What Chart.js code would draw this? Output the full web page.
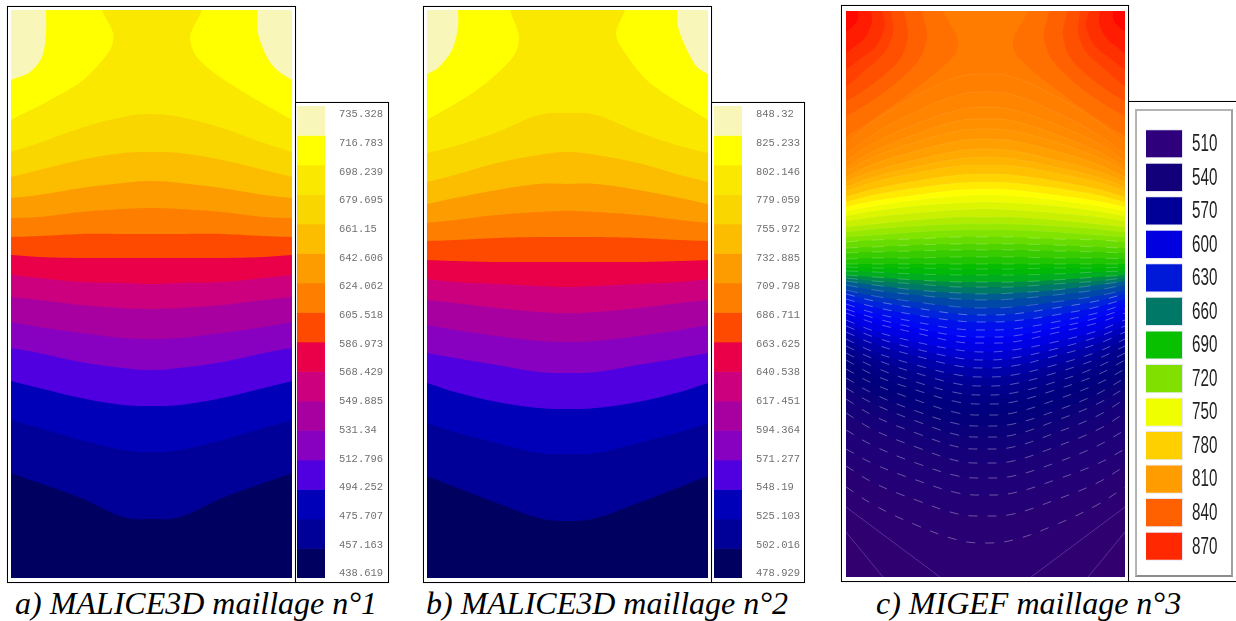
<!DOCTYPE html>
<html>
<head>
<meta charset="utf-8">
<title>Champs de temperature</title>
<script src="https://cdn.jsdelivr.net/npm/chart.js@4/dist/chart.umd.min.js"></script>
<style>
    html, body { margin: 0; padding: 0; background: #fff; }
    body { position: relative; width: 1236px; height: 621px; overflow: hidden; }
    canvas, .frame, .caption, .box { position: absolute; }
    .frame { box-sizing: border-box; border: 1px solid #000; box-shadow: 0 0 0.6px rgba(0, 0, 0, 0.8); }
    .box { box-sizing: border-box; border: 2px solid #b4b4b4; border-bottom-color: #8c8c8c; border-right-color: #a0a0a0; }
    .caption { top: 585px; font: italic 32px "Liberation Serif", serif; color: #000; white-space: nowrap; }
</style>
</head>
<body>
<div class="frame" style="left:7px;top:6px;width:289px;height:577px"></div>
<div class="frame" style="left:295px;top:102px;width:94px;height:481px"></div>
<div class="frame" style="left:423px;top:6px;width:289px;height:577px"></div>
<div class="frame" style="left:711px;top:102px;width:94px;height:481px"></div>
<div class="frame" style="left:841px;top:5px;width:288px;height:577px"></div>
<div class="frame" style="left:1128px;top:101px;width:120px;height:481px"></div>
<div class="box" style="left:1135px;top:109px;width:98px;height:468px"></div>

<canvas id="fieldA" width="281" height="568" style="left:11px;top:10px"></canvas>
<canvas id="scaleA" width="90" height="472" style="left:297px;top:106px"></canvas>
<canvas id="fieldB" width="281" height="568" style="left:427px;top:10px"></canvas>
<canvas id="scaleB" width="90" height="472" style="left:714px;top:106px"></canvas>
<canvas id="fieldC" width="279" height="566" style="left:846px;top:11px"></canvas>
<canvas id="scaleC" width="80" height="436" style="left:1146px;top:127px"></canvas>

<div class="caption" style="left:15px">a) MALICE3D maillage n°1</div>
<div class="caption" style="left:426px">b) MALICE3D maillage n°2</div>
<div class="caption" style="left:876px">c) MIGEF maillage n°3</div>

<script>
// tick labels of the colour scales
const levelsA = [735.328, 716.783, 698.239, 679.695, 661.15, 642.606, 624.062, 605.518, 586.973, 568.429, 549.885, 531.34, 512.796, 494.252, 475.707, 457.163, 438.619]
const levelsB = [848.32, 825.233, 802.146, 779.059, 755.972, 732.885, 709.798, 686.711, 663.625, 640.538, 617.451, 594.364, 571.277, 548.19, 525.103, 502.016, 478.929]
const levelsC = ['510', '540', '570', '600', '630', '660', '690', '720', '750', '780', '810', '840', '870']

const scaleColorsAB = ['#f8f6b8', '#ffff00', '#fbe800', '#f9d600', '#fcbc00', '#fd9c00', '#fe7e00', '#fd4a00', '#e90048', '#cc007f', '#a800a0', '#8800c0', '#5000e0', '#0000b8', '#000098', '#000060']
const scaleColorsC = ['#2e007c', '#12007a', '#000098', '#0000e0', '#0018d8', '#007868', '#08c000', '#80e000', '#f0ff00', '#ffd000', '#ff9c00', '#ff6000', '#ff2800']

// x stops of the half profiles (left edge to centre)
const stopsAB = [0, 28, 70, 112, 140, 169, 211, 253, 281]
const stopsC = [0, 28, 70, 112, 139, 167, 209, 251, 279]

// iso lines: depth at each half stop, top to bottom
const bandsA = [
    [142, 133, 118, 107, 104],
    [167, 160, 150, 143, 142],
    [188, 185, 178, 173, 171],
    [208, 207, 202, 199, 198],
    [227, 226, 224, 224, 224],
    [245, 247, 248, 248, 248],
    [265, 268, 272, 273, 274],
    [287, 290, 295, 298, 299],
    [312, 317, 323, 328, 329],
    [338, 343, 352, 358, 360],
    [371, 378, 388, 395, 396],
    [410, 418, 430, 440, 442],
    [463, 473, 488, 507, 509]
]
const bandsB = [
    [143, 136, 122, 105, 103],
    [172, 165, 153, 145, 142],
    [194, 188, 180, 174, 174],
    [213, 210, 205, 202, 201],
    [231, 230, 228, 227, 227],
    [250, 251, 252, 252, 252],
    [269, 272, 274, 276, 277],
    [290, 293, 298, 302, 303],
    [315, 320, 326, 331, 332],
    [343, 348, 355, 362, 363],
    [373, 382, 392, 398, 399],
    [413, 422, 433, 443, 444],
    [466, 477, 493, 508, 511]
]
const bandsC = [
    [133, 110, 85, 66, 63], [143, 123, 101, 84, 81], [150, 132, 113, 99, 96], [156, 140, 123, 110, 108],
    [160, 146, 131, 120, 118], [166, 153, 140, 130, 128], [171, 160, 149, 140, 138], [176, 166, 156, 148, 146],
    [180, 171, 162, 155, 154], [186, 178, 170, 164, 163], [191, 184, 177, 172, 171], [196, 190, 184, 179, 178],
    [200, 195, 189, 185, 184], [205, 200, 195, 192, 191], [210, 206, 202, 199, 198], [216, 213, 209, 206, 206],
    [221, 218, 215, 213, 213], [226, 224, 221, 219, 219], [231, 229, 228, 226, 226], [237, 236, 234, 233, 233],
    [242, 241, 240, 239, 239], [248, 247, 247, 246, 246], [253, 253, 253, 253, 253], [256, 257, 257, 258, 258],
    [260, 261, 263, 264, 264], [264, 266, 269, 271, 271], [267, 270, 273, 276, 276], [270, 274, 279, 282, 283],
    [274, 279, 284, 288, 289], [279, 285, 291, 296, 297], [283, 290, 297, 303, 304], [288, 296, 304, 310, 311],
    [293, 302, 311, 318, 319], [298, 307, 317, 325, 326], [302, 312, 322, 331, 332], [309, 320, 331, 339, 341],
    [315, 326, 338, 347, 349], [321, 333, 345, 355, 357], [328, 341, 354, 364, 366], [335, 348, 362, 373, 375],
    [342, 356, 371, 382, 384], [349, 364, 379, 391, 393], [358, 373, 389, 402, 404], [367, 383, 400, 413, 415],
    [377, 393, 410, 424, 426], [388, 405, 422, 436, 438], [402, 419, 436, 450, 452], [419, 435, 452, 465, 467],
    [438, 453, 469, 482, 484], [455, 472, 489, 503, 505], [476, 494, 514, 529, 532]
]
const bandColorsAB = ['#f9d600', '#fcbc00', '#fd9c00', '#fe7e00', '#fd4a00', '#e90048', '#cc007f', '#a800a0', '#8800c0', '#5000e0', '#0000b8', '#000098', '#000060']
const bandColorsC = [
    '#ff8000', '#ff8400', '#ff8a00', '#ff9000', '#ff9600', '#ffa000', '#ffaa00', '#ffb400', '#ffc000', '#ffd400',
    '#ffea00', '#ffff00', '#f0fb00', '#dcf600', '#c8f000', '#b0ec00', '#98e800', '#80e400', '#68dc00', '#50d400',
    '#38cc00', '#20c400', '#08bc00', '#00b808', '#00ac20', '#008c48', '#007868', '#005c90', '#0048a8', '#0034c4',
    '#0024dc', '#0010ec', '#0008f4', '#0000f0', '#0000e4', '#0000d0', '#0000bc', '#0000a8', '#000098', '#00008c',
    '#000084', '#00007e', '#04007c', '#0a007a', '#10007a', '#16007a', '#1c0078', '#200078', '#240076', '#280074', '#2c0072'
]

// closed regions in the upper corners, as [x, depth]
const cornersA = [
    { color: '#ffff00', points: [[-12, -12], [91, -12], [91, 0], [102, 23], [99, 40], [72, 70], [39, 90], [0, 110], [-12, 118]] },
    { color: '#ffff00', points: [[293, -12], [191, -12], [191, 0], [179, 27], [186, 47], [209, 67], [246, 90], [281, 110], [293, 118]] },
    { color: '#f8f6b8', points: [[-12, -12], [35, -12], [35, 0], [35, 23], [31, 47], [19, 62], [0, 70], [-12, 76]] },
    { color: '#f8f6b8', points: [[293, -12], [246, -12], [246, 0], [247, 23], [256, 47], [266, 60], [281, 70], [293, 76]] }
]
const cornersB = [
    { color: '#ffff00', points: [[-12, -12], [83, -12], [83, 0], [92, 27], [86, 47], [50, 80], [0, 110], [-12, 118]] },
    { color: '#ffff00', points: [[293, -12], [198, -12], [198, 0], [189, 23], [196, 40], [223, 73], [281, 110], [293, 118]] },
    { color: '#f8f6b8', points: [[-12, -12], [31, -12], [31, 0], [31, 17], [25, 40], [11, 58], [0, 64], [-12, 70]] },
    { color: '#f8f6b8', points: [[293, -12], [250, -12], [250, 0], [251, 17], [260, 40], [270, 57], [281, 64], [293, 70]] }
]
const arcsC = [
    { color: '#ff7000', points: [[97, 0], [112, 29], [107, 46], [60, 85], [0, 125]] },
    { color: '#ff6000', points: [[76, 0], [81, 26], [72, 50], [40, 80], [0, 105]] },
    { color: '#ff5000', points: [[58, 0], [62, 24], [54, 48], [28, 72], [0, 90]] },
    { color: '#ff4000', points: [[45, 0], [47, 22], [38, 42], [18, 60], [0, 75]] },
    { color: '#ff3000', points: [[36, 0], [39, 15], [30, 35], [14, 48], [0, 58]] },
    { color: '#ff1c00', points: [[25, 0], [26, 12], [18, 28], [8, 36], [0, 42]] },
    { color: '#ff0800', points: [[12, 0], [12, 8], [6, 16], [0, 20]] }
]
const bottomC = [
    { color: '#2e0070', points: [[0, 496], [94, 566]] },
    { color: '#330070', points: [[0, 521], [37, 566]] }
]

const mirror = half => [...half, ...half.slice(0, -1).reverse()]
const toPoints = pairs => pairs.map(([x, y]) => ({ x, y }))

const quiet = { legend: { display: false }, tooltip: { enabled: false } }

const region = (color, pairs, line = {}) => ({
    data: toPoints(pairs),
    showLine: true,
    fill: 'shape',
    backgroundColor: color,
    borderWidth: 0,
    pointRadius: 0,
    tension: 0.3,
    ...line
})

const band = (stops, depths, color, line = {}) => ({
    data: mirror(depths).map((y, i) => ({ x: stops[i], y })),
    showLine: true,
    fill: 'start',
    backgroundColor: color,
    borderWidth: 0,
    pointRadius: 0,
    tension: 0.4,
    ...line
})

const fieldChart = (id, width, height, layers) => {
    layers.forEach((layer, i) => { layer.order = layers.length - i })
    return new Chart(id, {
        type: 'scatter',
        data: { datasets: layers },
        options: {
            responsive: false,
            animation: false,
            layout: { padding: 0 },
            plugins: quiet,
            scales: {
                x: { type: 'linear', min: 0, max: width, display: false },
                y: { type: 'linear', min: 0, max: height, reverse: true, display: false }
            }
        }
    })
}

const levelChart = (id, levels) => {
    const top = levels[0]
    const bottom = levels[levels.length - 1]
    const perPixel = (top - bottom) / 459
    return new Chart(id, {
        type: 'bar',
        data: {
            labels: [''],
            datasets: scaleColorsAB.map((color, i) => ({
                data: [[levels[i + 1], levels[i]]],
                backgroundColor: color,
                yAxisID: 'bands',
                barPercentage: 1,
                categoryPercentage: 1,
                grouped: false,
                borderWidth: 0
            }))
        },
        options: {
            responsive: false,
            animation: false,
            layout: { padding: 0 },
            plugins: quiet,
            scales: {
                x: { display: false },
                bands: { type: 'linear', position: 'left', min: bottom, max: top, display: false },
                labels: {
                    type: 'linear',
                    position: 'right',
                    min: bottom - 4.5 * perPixel,
                    max: top + 8.5 * perPixel,
                    grid: { display: false, drawTicks: false },
                    border: { display: false },
                    afterBuildTicks: scale => { scale.ticks = levels.map(value => ({ value })) },
                    afterFit: scale => { scale.width = 62; scale.paddingTop = 0; scale.paddingBottom = 0 },
                    ticks: {
                        autoSkip: false,
                        padding: 14,
                        color: '#707070',
                        font: { family: '"Liberation Mono", monospace', size: 10.5 },
                        callback: value => String(value)
                    }
                }
            }
        }
    })
}

// the swatch labels are condensed, no narrow face is installed so squeeze the sans
const narrowLabels = {
    id: 'narrowLabels',
    afterDraw: chart => {
        const { ctx, chartArea } = chart
        const scale = chart.scales.y
        ctx.save()
        ctx.font = '23px "Liberation Sans", sans-serif'
        ctx.fillStyle = '#222'
        ctx.textBaseline = 'middle'
        scale.ticks.forEach((tick, i) => {
            ctx.save()
            ctx.translate(chartArea.right + 9, scale.getPixelForTick(i) + 1)
            ctx.scale(0.66, 1)
            ctx.fillText(tick.label, 0, 0)
            ctx.restore()
        })
        ctx.restore()
    }
}

const swatchChart = id => new Chart(id, {
    type: 'bar',
    data: {
        labels: levelsC,
        datasets: [{
            data: levelsC.map(() => 1),
            backgroundColor: scaleColorsC,
            borderColor: 'rgba(225, 225, 245, 0.9)',
            borderWidth: 1,
            barPercentage: 0.87,
            categoryPercentage: 1
        }]
    },
    plugins: [narrowLabels],
    options: {
        indexAxis: 'y',
        responsive: false,
        animation: false,
        layout: { padding: { right: 43 } },
        plugins: quiet,
        scales: {
            x: { min: 0, max: 1, display: false },
            y: { position: 'right', display: false }
        }
    }
})

const layersAB = (stops, bands, corners) => [
    band(stops, [0, 0, 0, 0, 0], '#fbe800'),
    ...corners.map(c => region(c.color, c.points)),
    ...bands.map((depths, i) => band(stops, depths, bandColorsAB[i]))
]

const contourLine = depths => {
    if(depths[4] > 300) return { borderWidth: 0.8, borderColor: 'rgba(255, 255, 255, 0.42)', borderDash: [9, 10] }
    if(depths[4] > 225) return { borderWidth: 0.8, borderColor: 'rgba(255, 255, 255, 0.25)', borderDash: [12, 14] }
    return { borderWidth: 0.7, borderColor: 'rgba(255, 255, 255, 0.1)' }
}

const flip = pairs => pairs.map(([x, y]) => [279 - x, y])
const cornerOutline = pairs => [[pairs[0][0], -12], ...pairs, [-12, pairs[pairs.length - 1][1]], [-12, -12]]
const footOutline = pairs => [[-12, pairs[0][1]], ...pairs, [pairs[1][0], 580], [-12, 580]]
const footLine = { tension: 0, borderWidth: 0.8, borderColor: 'rgba(170, 130, 220, 0.45)' }

const layersC = [
    band(stopsC, [0, 0, 0, 0, 0], '#ff7c00'),
    ...arcsC.flatMap(a => [region(a.color, cornerOutline(a.points)), region(a.color, flip(cornerOutline(a.points)))]),
    ...bandsC.map((depths, i) => band(stopsC, depths, bandColorsC[i], contourLine(depths))),
    ...bottomC.flatMap(b => [
        region(b.color, footOutline(b.points), footLine),
        region(b.color, flip(footOutline(b.points)), footLine)
    ])
]

fieldChart('fieldA', 281, 568, layersAB(stopsAB, bandsA, cornersA))
fieldChart('fieldB', 281, 568, layersAB(stopsAB, bandsB, cornersB))
fieldChart('fieldC', 279, 566, layersC)
levelChart('scaleA', levelsA)
levelChart('scaleB', levelsB)
swatchChart('scaleC')
</script>
</body>
</html>
